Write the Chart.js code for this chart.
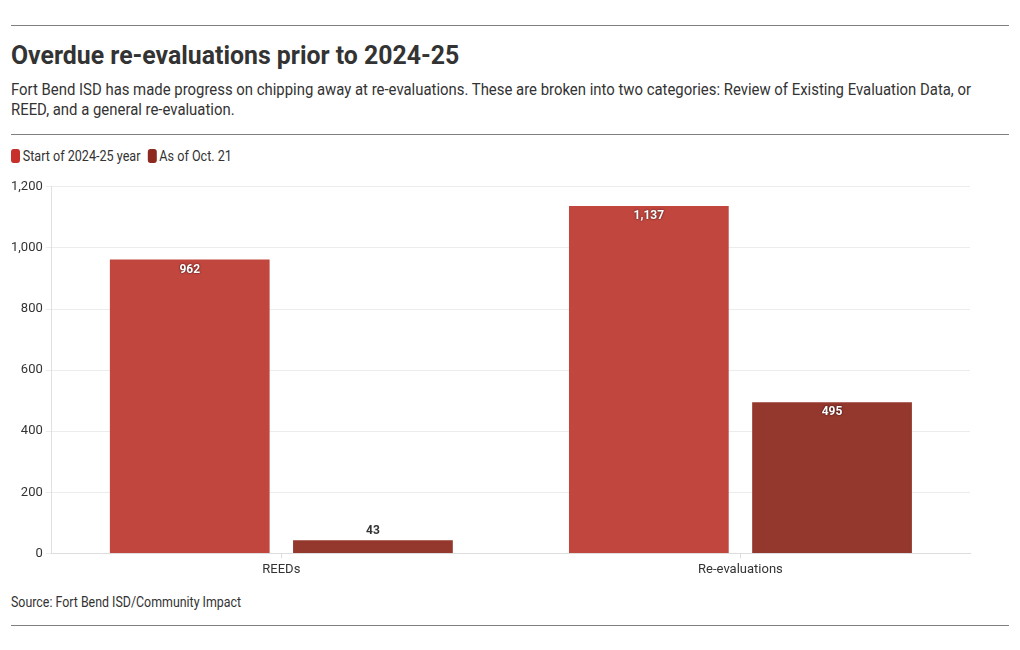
<!DOCTYPE html>
<html>
<head>
<meta charset="utf-8">
<script src="https://cdn.jsdelivr.net/npm/chart.js@4/dist/chart.umd.min.js"></script>
<style>
  html, body { margin: 0; padding: 0; background: #fff; }
  body { width: 1020px; height: 650px; position: relative; overflow: hidden; font-family: Roboto, "Noto Sans", sans-serif; color: #333; }
  .rule { position: absolute; left: 11px; width: 998px; height: 1px; background: #808080; }
  .cond { position: absolute; left: 11px; transform-origin: 0 0; }
  #title { top: 40px; font-size: 26px; font-weight: 700; color: #333; width: 1000px; white-space: nowrap; transform: scaleX(0.955); }
  #sub { top: 80px; font-size: 16px; line-height: 20px; color: #333; width: 1042px; transform: scaleX(0.931); }
  #legend { top: 148px; font-size: 14px; color: #333; white-space: nowrap; width: 600px; transform: scaleX(0.9); }
  #legend span.box { display: inline-block; width: 10px; height: 14px; border-radius: 3px; vertical-align: -2px; margin-right: 3px; }
  #legend span.item { margin-right: 8px; }
  #source { top: 594px; font-size: 14px; color: #333; width: 600px; transform: scaleX(0.885); }
  #wrap { position: absolute; left: 0; top: 176px; width: 990px; height: 406px; }
</style>
</head>
<body>
<div class="rule" style="top:25px"></div>
<div id="title" class="cond">Overdue re-evaluations prior to 2024-25</div>
<div id="sub" class="cond">Fort Bend ISD has made progress on chipping away at re-evaluations. These are broken into two categories: Review of Existing Evaluation Data, or REED, and a general re-evaluation.</div>
<div class="rule" style="top:134px"></div>
<div id="legend" class="cond"></div>
<div id="wrap"><canvas id="c"></canvas></div>
<div id="source" class="cond">Source: Fort Bend ISD/Community Impact</div>
<div class="rule" style="top:625px"></div>
<script>
const categories = ["REEDs", "Re-evaluations"];
const seriesNames = ["Start of 2024-25 year", "As of Oct. 21"];
const startValues = [962, 1137];
const octValues = [43, 495];
const yTicks = [0, 200, 400, 600, 800, 1000, 1200];
const colors = ["#c0463e", "#94372d"];
const legendColors = ["#c8302c", "#8c2a20"];

const leg = document.getElementById('legend');
seriesNames.forEach((n, i) => {
  const it = document.createElement('span');
  it.className = 'item';
  it.innerHTML = '<span class="box" style="background:' + legendColors[i] + '"></span>' + n;
  leg.appendChild(it);
});

const fmt = v => v.toLocaleString('en-US');

const labelPlugin = {
  id: 'barLabels',
  afterDatasetsDraw(chart) {
    const ctx = chart.ctx;
    ctx.save();
    ctx.font = '700 12px Roboto, sans-serif';
    ctx.textAlign = 'center';
    chart.data.datasets.forEach((ds, di) => {
      const meta = chart.getDatasetMeta(di);
      meta.data.forEach((bar, i) => {
        const v = ds.data[i];
        const h = bar.base - bar.y;
        const txt = fmt(v);
        if (h > 30) {
          ctx.textBaseline = 'top';
          ctx.shadowColor = 'rgba(0,0,0,0.8)';
          ctx.shadowBlur = 2;
          ctx.fillStyle = '#fff';
          ctx.fillText(txt, bar.x, bar.y + 4);
          ctx.shadowBlur = 0;
          ctx.shadowColor = 'transparent';
        } else {
          ctx.textBaseline = 'bottom';
          ctx.fillStyle = '#333';
          ctx.fillText(txt, bar.x, bar.y - 3);
        }
      });
    });
    ctx.restore();
  }
};

new Chart(document.getElementById('c'), {
  type: 'bar',
  data: {
    labels: categories,
    datasets: [
      { label: seriesNames[0], data: startValues, backgroundColor: colors[0] },
      { label: seriesNames[1], data: octValues, backgroundColor: colors[1] }
    ]
  },
  options: {
    responsive: true,
    maintainAspectRatio: false,
    animation: false,
    layout: { padding: { left: 8, right: 20, top: 4, bottom: 0 } },
    categoryPercentage: 0.798,
    barPercentage: 0.872,
    plugins: { legend: { display: false }, tooltip: { enabled: false } },
    scales: {
      x: {
        grid: { display: true, offset: false, drawOnChartArea: false, color: '#ddd', tickLength: 5 },
        border: { color: '#ddd' },
        ticks: { color: '#333', font: { family: 'Roboto', size: 13 }, padding: 4 }
      },
      y: {
        min: 0, max: 1200,
        afterBuildTicks: axis => { axis.ticks = yTicks.map(v => ({ value: v })); },
        grid: { color: '#ececec', tickLength: 6 },
        border: { color: '#e0e0e0' },
        ticks: { color: '#333', font: { family: 'Roboto', size: 13 }, padding: 3, callback: v => fmt(v) }
      }
    }
  },
  plugins: [labelPlugin]
});
</script>
</body>
</html>
